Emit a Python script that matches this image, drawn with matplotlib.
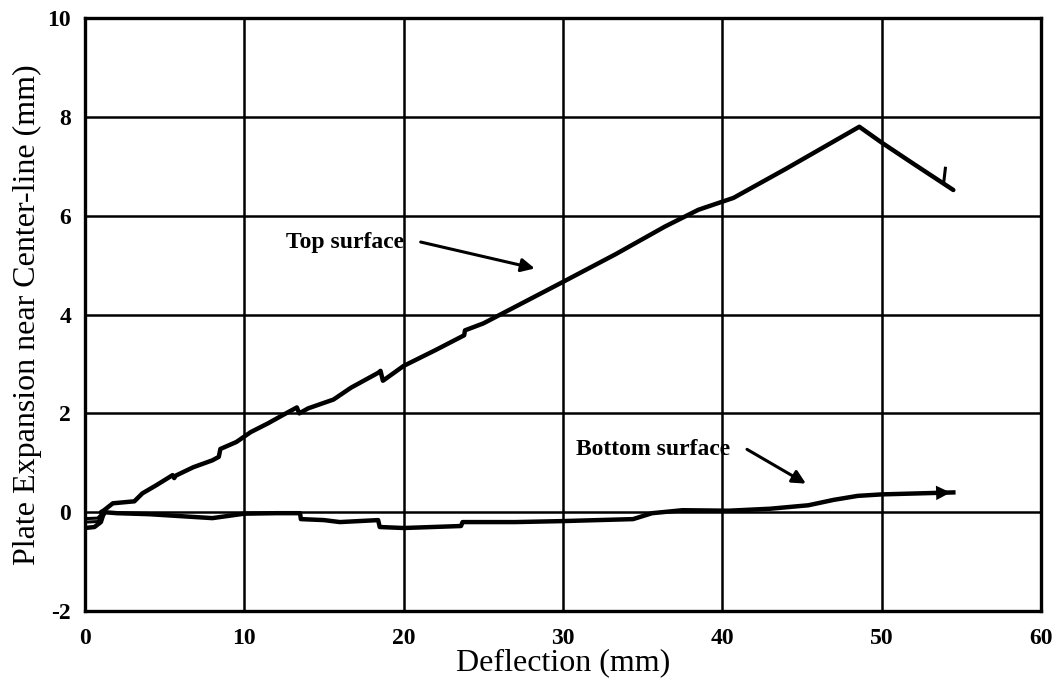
import matplotlib
matplotlib.use('Agg')
import matplotlib.pyplot as plt

# Top surface trace (deflection mm, expansion mm)
TOP_X = [1.0, 1.2, 1.75, 3.1, 3.6, 4.5, 5.5, 5.6, 5.7, 6.8, 8.0, 8.4, 8.5, 9.5, 10.4, 11.5, 12.5,
         13.3, 13.45, 14.0, 15.6, 16.7, 18.4, 18.55, 18.7, 20.0, 22.0, 23.8, 23.85, 25.0, 30.0,
         33.3, 36.4, 38.5, 40.7, 44.0, 48.6, 50.0, 52.0, 54.5]
TOP_Y = [0.0, 0.04, 0.18, 0.22, 0.38, 0.55, 0.75, 0.69, 0.74, 0.91, 1.05, 1.12, 1.28, 1.42, 1.62,
         1.8, 1.98, 2.12, 2.0, 2.1, 2.28, 2.52, 2.82, 2.86, 2.66, 2.96, 3.28, 3.58, 3.68, 3.82,
         4.66, 5.22, 5.78, 6.12, 6.36, 6.95, 7.8, 7.48, 7.05, 6.52]
# small hook near the end of the top trace
HOOK_X = [53.9, 54.0]
HOOK_Y = [6.68, 6.96]

# Bottom surface trace
BOTTOM_X = [0.0, 0.6, 1.0, 1.2, 2.0, 4.0, 6.0, 8.0, 10.0, 12.0, 13.5, 13.55, 15.0, 16.0, 18.4,
            18.5, 20.0, 23.6, 23.7, 27.0, 30.0, 34.4, 35.6, 37.5, 40.4, 43.0, 45.4, 47.0, 48.5,
            50.0, 54.5]
BOTTOM_Y = [-0.32, -0.3, -0.2, 0.0, -0.02, -0.04, -0.08, -0.12, -0.03, -0.02, -0.02, -0.14, -0.16,
            -0.2, -0.16, -0.3, -0.32, -0.28, -0.2, -0.2, -0.18, -0.14, -0.02, 0.04, 0.03, 0.07,
            0.14, 0.25, 0.33, 0.36, 0.4]
# extra strands at the start of the bottom trace
STRAND_A_X = [0.0, 0.8, 1.1]
STRAND_A_Y = [-0.13, -0.12, -0.02]
STRAND_B_X = [0.0, 0.8, 1.2]
STRAND_B_Y = [-0.2, -0.19, -0.05]

X_TICKS = [0, 10, 20, 30, 40, 50, 60]
Y_TICKS = [-2, 0, 2, 4, 6, 8, 10]

SERIF = 'Liberation Serif'
LINE_WIDTH = 3.2


def draw_chart():
    plt.rcParams['axes.unicode_minus'] = False
    fig = plt.figure(figsize=(10.58, 6.86), dpi=100)
    ax = fig.add_axes([0.0803, 0.1093, 0.9036, 0.8644])

    ax.plot(TOP_X, TOP_Y, color='black', lw=LINE_WIDTH, solid_joinstyle='round', solid_capstyle='round')
    ax.plot(HOOK_X, HOOK_Y, color='black', lw=2.2)
    ax.plot(BOTTOM_X, BOTTOM_Y, color='black', lw=LINE_WIDTH, solid_joinstyle='round')
    ax.plot(STRAND_A_X, STRAND_A_Y, color='black', lw=2.2)
    ax.plot(STRAND_B_X, STRAND_B_Y, color='black', lw=2.2)
    # arrow head at the end of the bottom trace
    ax.annotate('', xy=(BOTTOM_X[-1], BOTTOM_Y[-1]), xytext=(BOTTOM_X[-2], BOTTOM_Y[-2]),
                arrowprops=dict(arrowstyle='-|>', color='black', lw=0, mutation_scale=26))

    ax.text(12.6, 5.46, 'Top surface', family=SERIF, fontweight='bold', fontsize=17,
            ha='left', va='center')
    ax.annotate('', xy=(28.4, 4.92), xytext=(20.9, 5.48),
                arrowprops=dict(arrowstyle='-|>', color='black', lw=2.2, mutation_scale=20))
    ax.text(30.8, 1.26, 'Bottom surface', family=SERIF, fontweight='bold', fontsize=17,
            ha='left', va='center')
    ax.annotate('', xy=(45.4, 0.55), xytext=(41.4, 1.3),
                arrowprops=dict(arrowstyle='-|>', color='black', lw=2.2, mutation_scale=20))

    ax.set_xlim(0, 60)
    ax.set_ylim(-2, 10)
    ax.set_xticks(X_TICKS)
    ax.set_yticks(Y_TICKS)
    ax.tick_params(length=0, labelsize=17)
    ax.tick_params(axis='x', pad=12)
    ax.tick_params(axis='y', pad=10)
    for label in ax.get_xticklabels() + ax.get_yticklabels():
        label.set_family(SERIF)
        label.set_fontweight('bold')
    ax.grid(True, color='black', lw=1.8)
    for spine in ax.spines.values():
        spine.set_linewidth(2.4)

    ax.set_xlabel('Deflection (mm)', family=SERIF, fontsize=23, labelpad=0)
    ax.set_ylabel('Plate Expansion near Center-line (mm)', family=SERIF, fontsize=23, labelpad=4)

    fig.savefig('out.png', dpi=100)


def main():
    draw_chart()


main()
